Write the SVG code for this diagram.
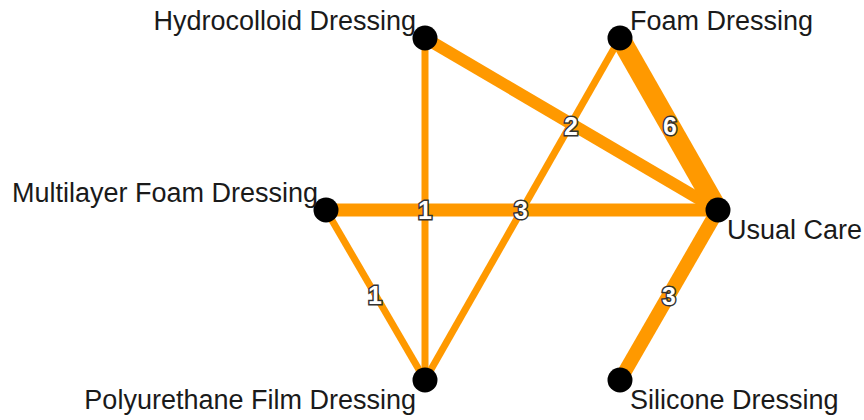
<svg xmlns="http://www.w3.org/2000/svg" width="864" height="420" viewBox="0 0 864 420">
<style>
.e{stroke:#FF9900;fill:none;stroke-linecap:butt}
.n{fill:#000}
.t{font-family:"Liberation Sans",Arial,sans-serif;font-size:27px;fill:#1a1a1a}
.l{font-family:"Liberation Sans",Arial,sans-serif;font-size:25px;fill:#fff;stroke:#333;stroke-width:3;paint-order:stroke;text-anchor:middle;font-weight:bold}
</style>
<rect width="864" height="420" fill="#fff"/>
<g id="edges">
<line class="e" x1="425" y1="38" x2="718" y2="210" stroke-width="12"/>
<line class="e" x1="620" y1="38" x2="718" y2="210" stroke-width="20"/>
<line class="e" x1="326" y1="210" x2="718" y2="210" stroke-width="13"/>
<line class="e" x1="718" y1="210" x2="620" y2="380" stroke-width="14"/>
<line class="e" x1="425" y1="38" x2="425" y2="380" stroke-width="7"/>
<line class="e" x1="620" y1="38" x2="425" y2="380" stroke-width="7"/>
<line class="e" x1="326" y1="210" x2="425" y2="380" stroke-width="7"/>
<text class="l" x="571" y="135">2</text>
<text class="l" x="670" y="135">6</text>
<text class="l" x="521" y="219">3</text>
<text class="l" x="425" y="219">1</text>
<text class="l" x="669" y="305">3</text>
<text class="l" x="375" y="304">1</text>
</g>
<g id="hydrocolloid"><circle class="n" cx="425" cy="38" r="12.5"/><text class="t" x="416" y="30" text-anchor="end">Hydrocolloid Dressing</text></g>
<g id="foam"><circle class="n" cx="620" cy="38" r="12.5"/><text class="t" x="630" y="30">Foam Dressing</text></g>
<g id="multilayer"><circle class="n" cx="326" cy="210" r="12.5"/><text class="t" x="318" y="202" text-anchor="end">Multilayer Foam Dressing</text></g>
<g id="usualcare"><circle class="n" cx="718" cy="210" r="12.5"/><text class="t" x="727" y="239">Usual Care</text></g>
<g id="polyurethane"><circle class="n" cx="425" cy="380" r="12.5"/><text class="t" x="416" y="409" text-anchor="end">Polyurethane Film Dressing</text></g>
<g id="silicone"><circle class="n" cx="620" cy="380" r="12.5"/><text class="t" x="630" y="409">Silicone Dressing</text></g>
</svg>
